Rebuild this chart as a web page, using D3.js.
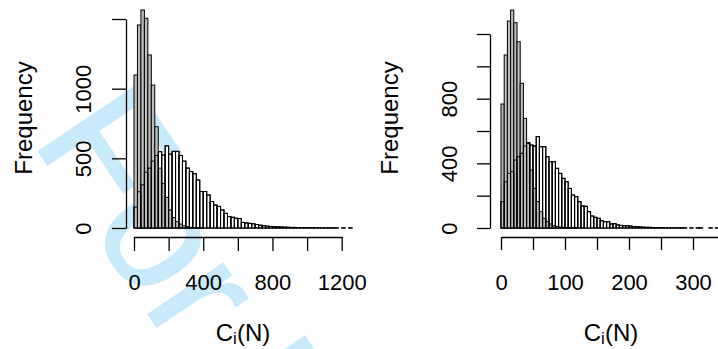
<!DOCTYPE html>
<html><head><meta charset="utf-8">
<script src="https://cdn.jsdelivr.net/npm/d3@7"></script>
<style>body{margin:0;background:#fff}svg{display:block;font-family:"Liberation Sans",Arial,Helvetica,sans-serif}</style>
</head><body>
<svg id="c" width="718" height="349"></svg>
<script>
// ---- data ----
const leftBinWidth = 20;
const leftGrey = [1098, 1457, 1565, 1505, 1242, 1026, 727, 430, 320, 220, 130, 75, 45, 28, 16, 9, 5, 3, 2, 1];
const leftWhite = [150, 260, 310, 400, 430, 480, 520, 548, 524, 590, 530, 550, 550, 520, 480, 430, 405, 390, 345, 262, 262, 237, 190, 165, 155, 130, 105, 82, 77, 70, 68, 40, 36, 33, 30, 25, 20, 16, 13, 11, 9, 8, 7, 6, 5, 4, 4, 3, 3, 2, 2, 2, 1, 1, 1, 1, 1, 1, 1, 0, 1, 0, 1];
const leftXTicks = [0, 200, 400, 600, 800, 1000, 1200];
const leftXLabels = [0, 400, 800, 1200];
const leftYTicks = [0, 500, 1000, 1500];
const leftYLabels = [0, 500, 1000];

const rightBinWidth = 5;
const rightGrey = [767, 1070, 1280, 1348, 1270, 1152, 895, 678, 524, 359, 245, 163, 101, 60, 39, 25, 14, 10, 6, 4, 3, 2, 1, 1];
const rightWhite = [163, 286, 338, 348, 420, 441, 462, 507, 528, 513, 507, 565, 503, 503, 441, 410, 410, 369, 338, 307, 286, 245, 204, 194, 163, 136, 134, 101, 74, 66, 60, 45, 39, 39, 25, 27, 19, 16, 14, 14, 12, 8, 8, 6, 5, 4, 4, 3, 3, 2, 2, 1, 1, 1, 1, 1, 1, 1, 0, 1, 0, 1, 1, 0, 0, 1, 0, 1, 0, 1];
const rightXTicks = [0, 50, 100, 150, 200, 250, 300, 350];
const rightXLabels = [0, 100, 200, 300];
const rightYTicks = [0, 200, 400, 600, 800, 1000, 1200];
const rightYLabels = [0, 400, 800];

const yTitle = "Frequency";
const watermark = "For Peer Review";

// ---- drawing ----
const svg = d3.select("#c");

// watermark behind the figure
svg.append("text").text(watermark)
  .attr("transform", "translate(31,140) rotate(56)")
  .attr("font-size", 170)
  .attr("fill", "#c8eafa").attr("stroke", "#c8eafa").attr("stroke-width", 2);

function panel(cfg) {
  const x = d3.scaleLinear().domain(cfg.xDomain).range(cfg.xRange);
  const y = d3.scaleLinear().domain(cfg.yDomain).range(cfg.yRange);
  const g = svg.append("g");
  const drawHist = (vals, fill) => {
    g.append("g").selectAll("rect").data(vals).join("rect")
      .attr("x", (d, i) => x(i * cfg.bw))
      .attr("width", x(cfg.bw) - x(0))
      .attr("y", d => y(d))
      .attr("height", d => y(0) - y(d))
      .attr("fill", fill).attr("stroke", "#000").attr("stroke-width", 1);
  };
  drawHist(cfg.white, "#fff");
  drawHist(cfg.grey, "#bdbdbd");
  drawHist(cfg.white, "none");

  // y axis
  const ya = g.append("g").attr("transform", `translate(${cfg.yAxisX},0)`)
    .call(d3.axisLeft(y).tickValues(cfg.yTicks).tickSize(cfg.tick).tickSizeOuter(0)
      .tickFormat(d => cfg.yLabels.includes(d) ? d : ""));
  ya.selectAll("path,line").attr("stroke", "#000").attr("stroke-width", 1.3);
  ya.selectAll("text").attr("x", null).attr("dy", null)
    .attr("transform", `translate(${cfg.yLabelOff},0) rotate(-90)`)
    .attr("text-anchor", "middle").attr("font-size", 22).attr("fill", "#000")
    .attr("font-family", "Liberation Sans, Arial, sans-serif");

  // x axis
  const xa = g.append("g").attr("transform", `translate(0,${cfg.xAxisY})`)
    .call(d3.axisBottom(x).tickValues(cfg.xTicks).tickSize(cfg.tick).tickSizeOuter(0)
      .tickFormat(d => cfg.xLabels.includes(d) ? d : ""));
  xa.selectAll("path,line").attr("stroke", "#000").attr("stroke-width", 1.3);
  xa.selectAll("text").attr("y", 53).attr("dy", null)
    .attr("font-size", 22).attr("fill", "#000")
    .attr("font-family", "Liberation Sans, Arial, sans-serif");

  // titles
  g.append("text").text(yTitle)
    .attr("transform", `translate(${cfg.yTitleX},118) rotate(-90)`)
    .attr("text-anchor", "middle").attr("font-size", 24);
  const t = g.append("text").attr("x", cfg.xTitleX).attr("y", 341)
    .attr("text-anchor", "middle").attr("font-size", 24);
  t.append("tspan").text("C");
  t.append("tspan").text("i").attr("font-size", 17).attr("dy", 3);
  t.append("tspan").text("(N)").attr("dy", -3);
}

panel({xDomain: [0, 1200], xRange: [134, 341.7], yDomain: [0, 1500], yRange: [228, 19],
  bw: leftBinWidth, grey: leftGrey, white: leftWhite,
  xTicks: leftXTicks, xLabels: leftXLabels, yTicks: leftYTicks, yLabels: leftYLabels,
  yAxisX: 126, xAxisY: 237, tick: 14, yLabelOff: -35, yTitleX: 32, xTitleX: 243});
panel({xDomain: [0, 350], xRange: [501, 725], yDomain: [0, 1200], yRange: [228, 34],
  bw: rightBinWidth, grey: rightGrey, white: rightWhite,
  xTicks: rightXTicks, xLabels: rightXLabels, yTicks: rightYTicks, yLabels: rightYLabels,
  yAxisX: 490, xAxisY: 237, tick: 13, yLabelOff: -33, yTitleX: 398, xTitleX: 611});
</script>
</body></html>
